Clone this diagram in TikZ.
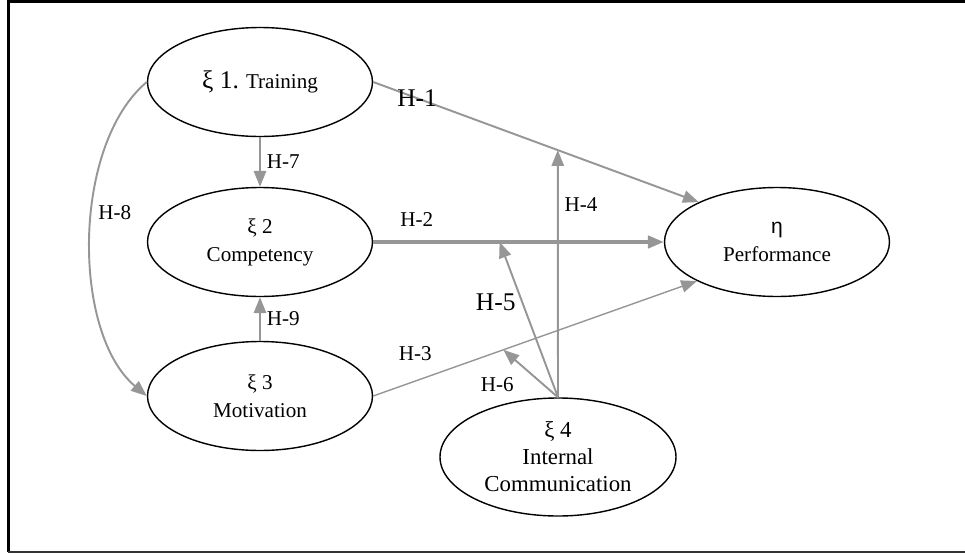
\documentclass[tikz,border=0pt]{standalone}
\usepackage{fontspec}
\setmainfont{Liberation Serif}
\setsansfont{Liberation Sans}
\usepackage{tikz}
\usetikzlibrary{shapes.geometric,arrows.meta}
\definecolor{pathgray}{RGB}{150,150,150}
\tikzset{latent style/.style={
		draw=black,
		line width=0.8pt,
		fill=white,
		text=black,
		ellipse,
		minimum width=4.5cm,
		minimum height=2.18cm,
		inner sep=0pt,
		align=center,
		font=\fontsize{12}{16}\selectfont,
	},
	path style/.style={
		draw=pathgray,
		line width=1.1pt,
	},
	edge style/.style={
		#1,
		text=black,
		font=\fontsize{12}{14}\selectfont,
	},
	big label/.style={
		font=\fontsize{14.5}{16}\selectfont,
	}
}

\begin{document}
\begin{tikzpicture}[node distance=3.2cm, >={Triangle[length=9pt,width=7pt]}]
	\useasboundingbox (0,0) rectangle (19.3,-11.08);
	\draw[line width=1.7pt] (19.4,-0.03) -- (0.17,-0.03) -- (0.17,-11.04);
	\draw[line width=1.1pt, black!80] (0.17,-11.04) -- (19.4,-11.04);
	
	\node[latent style] (Training) at (5.2,-1.64) {{\fontsize{14.5}{16}\selectfont ξ 1.} Training};
	
	\node[latent style, below of=Training] (Competency) {ξ 2\\Competency}
	edge [<-, path style] node[edge style, right]{H-7} (Training);
	
	\node[latent style, below of=Competency, yshift=0.12cm] (Motivation) {ξ 3\\Motivation}
	edge [->, path style] node[edge style, right]{H-9} (Competency);
	
	\node[latent style, right of=Competency, xshift=7.14cm] (Performance) {{\sffamily η}\\Performance};
	
	\node[latent style, right of=Motivation, xshift=2.76cm, yshift=-1.22cm,
		minimum width=4.72cm, minimum height=2.36cm,
		font=\fontsize{13}{15.3}\selectfont] (Communication) {ξ 4\\Internal\\Communication};
	
	% direct paths to performance
	\draw[path style, ->] (Training.east) -- node[edge style, big label, pos=0.135]{H-1}
	coordinate[pos=0.567] (h1 point) (Performance.153);
	\draw[path style, line width=2pt, ->] (Competency.east) -- node[edge style, above=4.5pt, pos=0.15]{H-2}
	coordinate[pos=0.435] (h2 point) (Performance.west);
	\draw[path style, line width=0.8pt, ->] (Motivation.east) -- node[edge style, above=8pt, pos=0.13]{H-3}
	coordinate[pos=0.402] (h3 point) (Performance.206);
	
	% training to motivation
	\draw[path style, ->] (Training.west) to[out=220, in=140, looseness=0.8]
	node[edge style, right, pos=0.43]{H-8} (Motivation.west);
	
	% moderating paths
	\draw[path style, ->] (Communication.north) -- node[edge style, right, pos=0.78]{H-4} (h1 point);
	\draw[path style, ->] (Communication.north) -- node[edge style, big label, left, pos=0.61]{H-5} (h2 point);
	\draw[path style, ->] (Communication.north) -- node[edge style, left=13pt, pos=0.27]{H-6} (h3 point);
\end{tikzpicture}
\end{document}
